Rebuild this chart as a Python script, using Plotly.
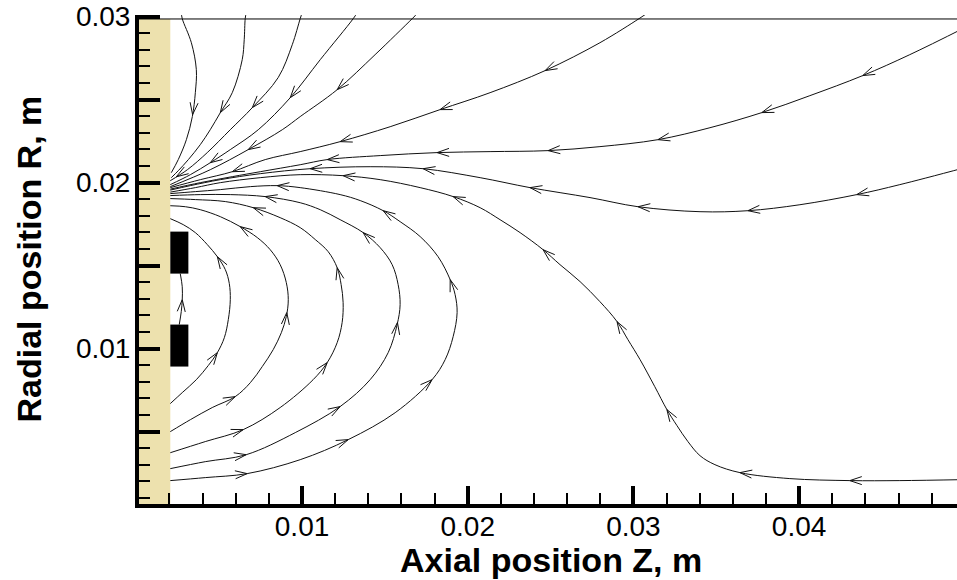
import numpy as np
import plotly.graph_objects as go

# ---------------- layout geometry ----------------
W_PX, H_PX = 957, 580
M_L, M_R, M_T, M_B = 139, 0, 15, 76
X_RANGE = [0.00016, 0.04953]
Y_RANGE = [0.00064, 0.0301]

# ---------------- tick data ----------------
x_major = [0.01, 0.02, 0.03, 0.04]
x_major_text = ["0.01", "0.02", "0.03", "0.04"]
x_minor = [0.002, 0.004, 0.006, 0.008, 0.012, 0.014, 0.016, 0.018, 0.022, 0.024, 0.026,
           0.028, 0.032, 0.034, 0.036, 0.038, 0.042, 0.044, 0.046, 0.048]
y_major = [0.005, 0.01, 0.015, 0.02, 0.025, 0.03]
y_major_text = ["", "0.01", "", "0.02", "", "0.03"]
y_minor = [0.001, 0.002, 0.003, 0.004, 0.006, 0.007, 0.008, 0.009, 0.011, 0.012, 0.013, 0.014,
           0.016, 0.017, 0.018, 0.019, 0.021, 0.022, 0.023, 0.024, 0.026, 0.027, 0.028, 0.029]

# ---------------- geometry of wall / electrodes ----------------
wall_x = [0.00016, 0.00205]
wall_y = [0.00064, 0.02986]
top_line_y = 0.02986
elec_x = [0.00205, 0.00314]
elec1_y = [0.01452, 0.01705]
elec2_y = [0.00892, 0.01145]

# ---------------- streamlines (ordered along flow) ----------------
t1_x = [0.00271, 0.00277, 0.00332, 0.00362, 0.00356, 0.00338, 0.00302, 0.00253, 0.00211]
t1_y = [0.03024, 0.02988, 0.02843, 0.02681, 0.02542, 0.02398, 0.02259, 0.02139, 0.02060]
t1_ax = [0.00338]
t1_ay = [0.02410]

t2_x = [0.00663, 0.00657, 0.00651, 0.00639, 0.00579, 0.00507, 0.00446, 0.00386, 0.00314, 0.00253, 0.00211]
t2_y = [0.03024, 0.02988, 0.02861, 0.02741, 0.02542, 0.02422, 0.02319, 0.02229, 0.02139, 0.02072, 0.02030]
t2_ax = [0.00507]
t2_ay = [0.02422]

t3_x = [0.01001, 0.00989, 0.00941, 0.00856, 0.00700, 0.00567, 0.00428, 0.00308, 0.00205]
t3_y = [0.03024, 0.02988, 0.02831, 0.02633, 0.02452, 0.02319, 0.02181, 0.02078, 0.02012]
t3_ax = [0.00700, 0.00241]
t3_ay = [0.02452, 0.02036]

t4_x = [0.01333, 0.01309, 0.01110, 0.00929, 0.00736, 0.00567, 0.00446, 0.00326, 0.00205]
t4_y = [0.03024, 0.02988, 0.02741, 0.02512, 0.02319, 0.02199, 0.02120, 0.02048, 0.01988]
t4_ax = [0.00929, 0.00446]
t4_ay = [0.02512, 0.02120]

t5_x = [0.01701, 0.01665, 0.01441, 0.01212, 0.00989, 0.00881, 0.00675, 0.00446, 0.00205]
t5_y = [0.03024, 0.02988, 0.02771, 0.02560, 0.02398, 0.02319, 0.02199, 0.02078, 0.01976]
t5_ax = [0.01212, 0.00675]
t5_ay = [0.02560, 0.02199]

b_x = [0.03070, 0.03034, 0.02798, 0.02467, 0.02135, 0.01833, 0.01532, 0.01230, 0.00989, 0.00778,
       0.00579, 0.00386, 0.00205]
b_y = [0.03012, 0.02988, 0.02843, 0.02675, 0.02542, 0.02440, 0.02337, 0.02247, 0.02187, 0.02139,
       0.02066, 0.02018, 0.01970]
b_ax = [0.02467, 0.01833, 0.01230, 0.00579]
b_ay = [0.02675, 0.02440, 0.02247, 0.02066]

c_x = [0.0500, 0.04668, 0.04384, 0.04065, 0.03775, 0.03462, 0.03148, 0.02798, 0.02485, 0.02135,
       0.01815, 0.01472, 0.01152, 0.00989, 0.00748, 0.00579, 0.00386, 0.00205]
c_y = [0.02934, 0.02771, 0.02645, 0.02524, 0.02422, 0.02331, 0.02259, 0.02217, 0.02193, 0.02187,
       0.02181, 0.02163, 0.02139, 0.02108, 0.02066, 0.02036, 0.02000, 0.01961]
c_ax = [0.04384, 0.03775, 0.03148, 0.02485, 0.01815, 0.01152]
c_ay = [0.02645, 0.02422, 0.02259, 0.02193, 0.02181, 0.02139]

d_x = [0.0500, 0.04608, 0.04348, 0.04005, 0.03691, 0.03402, 0.03028, 0.02738, 0.02376, 0.02075,
       0.01731, 0.01411, 0.01049, 0.00748, 0.00507, 0.00326, 0.00205]
d_y = [0.02090, 0.01988, 0.01928, 0.01867, 0.01831, 0.01825, 0.01855, 0.01910, 0.01970, 0.02030,
       0.02084, 0.02096, 0.02084, 0.02054, 0.02018, 0.01982, 0.01955]
d_ax = [0.04348, 0.03691, 0.03028, 0.02376, 0.01731, 0.01049]
d_ay = [0.01928, 0.01831, 0.01855, 0.01970, 0.02084, 0.02084]

e_x = [0.0500, 0.04608, 0.04306, 0.03944, 0.03643, 0.03492, 0.03402, 0.03329, 0.03263, 0.03202,
       0.03129, 0.03040, 0.02967, 0.02901, 0.02798, 0.02678, 0.02557, 0.02455, 0.02316, 0.02195,
       0.02075, 0.01912, 0.01713, 0.01472, 0.01248, 0.00989, 0.00748, 0.00507, 0.00356, 0.00205]
e_y = [0.00211, 0.00205, 0.00205, 0.00217, 0.00253, 0.00301, 0.00355, 0.00440, 0.00536, 0.00633,
       0.00771, 0.00934, 0.01054, 0.01163, 0.01283, 0.01404, 0.01506, 0.01596, 0.01699, 0.01777,
       0.01849, 0.01916, 0.01970, 0.02018, 0.02042, 0.02048, 0.02030, 0.02000, 0.01970, 0.01943]
e_ax = [0.04306, 0.03643, 0.03202, 0.02901, 0.02455, 0.01912, 0.01248]
e_ay = [0.00205, 0.00253, 0.00633, 0.01163, 0.01596, 0.01916, 0.02042]

l5_x = [0.00205, 0.00416, 0.00669, 0.00989, 0.01279, 0.01562, 0.01785, 0.01864, 0.01912, 0.01936,
        0.01924, 0.01894, 0.01821, 0.01713, 0.01592, 0.01490, 0.01351, 0.01230, 0.00989, 0.00850,
        0.00688, 0.00507, 0.00356, 0.00205]
l5_y = [0.00205, 0.00223, 0.00247, 0.00331, 0.00452, 0.00614, 0.00813, 0.00934, 0.01072, 0.01217,
        0.01325, 0.01416, 0.01554, 0.01675, 0.01765, 0.01831, 0.01892, 0.01928, 0.01970, 0.01982,
        0.01976, 0.01958, 0.01946, 0.01934]
l5_ax = [0.00669, 0.01279, 0.01785, 0.01894, 0.01490, 0.00850]
l5_ay = [0.00247, 0.00452, 0.00813, 0.01416, 0.01831, 0.01982]

l4_x = [0.00205, 0.00416, 0.00663, 0.00959, 0.01230, 0.01411, 0.01520, 0.01574, 0.01592, 0.01580,
        0.01544, 0.01472, 0.01369, 0.01230, 0.01110, 0.00989, 0.00778, 0.00567, 0.00386, 0.00205]
l4_y = [0.00277, 0.00319, 0.00361, 0.00494, 0.00651, 0.00813, 0.00976, 0.01145, 0.01265, 0.01386,
        0.01506, 0.01608, 0.01699, 0.01777, 0.01837, 0.01879, 0.01916, 0.01928, 0.01928, 0.01922]
l4_ax = [0.00663, 0.01230, 0.01580, 0.01369, 0.00778]
l4_ay = [0.00361, 0.00651, 0.01157, 0.01699, 0.01916]

l3_x = [0.00205, 0.00416, 0.00645, 0.00868, 0.01067, 0.01152, 0.01212, 0.01242, 0.01248, 0.01236,
        0.01212, 0.01158, 0.01080, 0.00989, 0.00868, 0.00706, 0.00537, 0.00356, 0.00205]
l3_y = [0.00373, 0.00440, 0.00512, 0.00645, 0.00813, 0.00916, 0.01036, 0.01157, 0.01277, 0.01386,
        0.01488, 0.01584, 0.01657, 0.01729, 0.01789, 0.01849, 0.01886, 0.01898, 0.01904]
l3_ax = [0.00645, 0.01152, 0.01212, 0.00706]
l3_ay = [0.00512, 0.00916, 0.01488, 0.01849]

l2_x = [0.00205, 0.00326, 0.00458, 0.00597, 0.00688, 0.00760, 0.00826, 0.00875, 0.00905, 0.00917,
        0.00905, 0.00868, 0.00808, 0.00730, 0.00627, 0.00507, 0.00386, 0.00296, 0.00205]
l2_y = [0.00500, 0.00572, 0.00645, 0.00711, 0.00795, 0.00892, 0.00994, 0.01096, 0.01193, 0.01295,
        0.01398, 0.01506, 0.01596, 0.01669, 0.01735, 0.01795, 0.01837, 0.01855, 0.01861]
l2_ax = [0.00597, 0.00911, 0.00627]
l2_ay = [0.00711, 0.01217, 0.01735]

l1_x = [0.00205, 0.00277, 0.00362, 0.00434, 0.00489, 0.00531, 0.00555, 0.00567, 0.00561, 0.00537,
        0.00489, 0.00428, 0.00356, 0.00283, 0.00205]
l1_y = [0.00669, 0.00735, 0.00813, 0.00898, 0.00976, 0.01066, 0.01175, 0.01295, 0.01392, 0.01476,
        0.01554, 0.01627, 0.01699, 0.01747, 0.01783]
l1_ax = [0.00489, 0.00489]
l1_ay = [0.00976, 0.01554]

l0_x = [0.00259, 0.00271, 0.00277, 0.00277, 0.00265]
l0_y = [0.01145, 0.01223, 0.01295, 0.01373, 0.01452]
l0_ax = [0.00277]
l0_ay = [0.01295]

streamlines = [
    (t1_x, t1_y, t1_ax, t1_ay), (t2_x, t2_y, t2_ax, t2_ay), (t3_x, t3_y, t3_ax, t3_ay),
    (t4_x, t4_y, t4_ax, t4_ay), (t5_x, t5_y, t5_ax, t5_ay), (b_x, b_y, b_ax, b_ay),
    (c_x, c_y, c_ax, c_ay), (d_x, d_y, d_ax, d_ay), (e_x, e_y, e_ax, e_ay),
    (l5_x, l5_y, l5_ax, l5_ay), (l4_x, l4_y, l4_ax, l4_ay), (l3_x, l3_y, l3_ax, l3_ay),
    (l2_x, l2_y, l2_ax, l2_ay), (l1_x, l1_y, l1_ax, l1_ay), (l0_x, l0_y, l0_ax, l0_ay),
]

# ---------------- arrowhead geometry from the axis scales ----------------
plot_w = W_PX - M_L - M_R
plot_h = H_PX - M_T - M_B
sx = plot_w / (X_RANGE[1] - X_RANGE[0])
sy = plot_h / (Y_RANGE[1] - Y_RANGE[0])
ARROW_LEN, ARROW_HALF = 12.0, 4.0


def chevron(xs, ys, ax, ay):
    P = np.column_stack([np.asarray(xs) * sx, -np.asarray(ys) * sy])
    q = np.array([ax * sx, -ay * sy])
    best = None
    for i in range(len(P) - 1):
        a, b = P[i], P[i + 1]
        d = b - a
        t = np.clip(np.dot(q - a, d) / np.dot(d, d), 0, 1)
        p = a + t * d
        dist = np.linalg.norm(q - p)
        if best is None or dist < best[0]:
            best = (dist, p, d / np.linalg.norm(d))
    _, tip, u = best
    n = np.array([-u[1], u[0]])
    pts = [tip - ARROW_LEN * u + ARROW_HALF * n, tip, tip - ARROW_LEN * u - ARROW_HALF * n]
    return [p[0] / sx for p in pts], [-p[1] / sy for p in pts]


fig = go.Figure()
LINE_COLOR = "#111111"
arr_x, arr_y = [], []
for xs, ys, axs, ays in streamlines:
    fig.add_trace(go.Scatter(x=xs, y=ys, mode="lines",
                             line=dict(color=LINE_COLOR, width=1, shape="spline", smoothing=1.0),
                             hoverinfo="skip", showlegend=False))
    for ax, ay in zip(axs, ays):
        cx, cy = chevron(xs, ys, ax, ay)
        arr_x += cx + [None]
        arr_y += cy + [None]

fig.add_trace(go.Scatter(x=arr_x, y=arr_y, mode="lines",
                         line=dict(color=LINE_COLOR, width=1),
                         hoverinfo="skip", showlegend=False))

shapes = [
    dict(type="rect", xref="x", yref="y", x0=wall_x[0], x1=wall_x[1], y0=wall_y[0], y1=wall_y[1],
         fillcolor="#EDE1AE", line=dict(width=0), layer="below"),
    dict(type="rect", xref="x", yref="y", x0=elec_x[0], x1=elec_x[1], y0=elec1_y[0], y1=elec1_y[1],
         fillcolor="black", line=dict(width=0), layer="above"),
    dict(type="rect", xref="x", yref="y", x0=elec_x[0], x1=elec_x[1], y0=elec2_y[0], y1=elec2_y[1],
         fillcolor="black", line=dict(width=0), layer="above"),
    dict(type="line", xref="x", yref="y", x0=X_RANGE[0], x1=X_RANGE[1], y0=top_line_y, y1=top_line_y,
         line=dict(color="black", width=1), layer="above"),
]

FONT = "Liberation Sans, Arial, Helvetica, sans-serif"

fig.update_layout(
    width=W_PX, height=H_PX,
    margin=dict(l=M_L, r=M_R, t=M_T, b=M_B, pad=0),
    paper_bgcolor="white", plot_bgcolor="white",
    shapes=shapes,
    showlegend=False,
    font=dict(family=FONT, color="black"),
    xaxis=dict(range=X_RANGE, showgrid=False, zeroline=False,
               showline=True, linecolor="black", linewidth=4,
               ticks="inside", tickvals=x_major, ticktext=x_major_text,
               ticklen=18, tickwidth=4, tickcolor="black",
               tickfont=dict(family=FONT, size=28, color="black"),
               ticklabelstandoff=-6,
               minor=dict(tickvals=x_minor, ticks="inside", ticklen=11, tickwidth=1.5, tickcolor="black"),
               fixedrange=True),
    yaxis=dict(range=Y_RANGE, showgrid=False, zeroline=False,
               showline=True, linecolor="black", linewidth=4,
               ticks="inside", tickvals=y_major, ticktext=y_major_text,
               ticklen=21, tickwidth=4, tickcolor="black",
               tickfont=dict(family=FONT, size=28, color="black"),
               ticklabelstandoff=-1,
               minor=dict(tickvals=y_minor, ticks="inside", ticklen=11, tickwidth=1.5, tickcolor="black"),
               fixedrange=True),
    annotations=[
        dict(text="<b>Axial position Z, m</b>", xref="paper", yref="paper",
             x=(551 - M_L) / plot_w, y=-(560 - (H_PX - M_B)) / plot_h,
             xanchor="center", yanchor="middle", showarrow=False,
             font=dict(family=FONT, size=34, color="black")),
        dict(text="<b>Radial position R, m</b>", xref="paper", yref="paper",
             x=(28 - M_L) / plot_w, y=0.5, textangle=-90,
             xanchor="center", yanchor="middle", showarrow=False,
             font=dict(family=FONT, size=34, color="black")),
    ],
)

fig.write_html("out.html")
